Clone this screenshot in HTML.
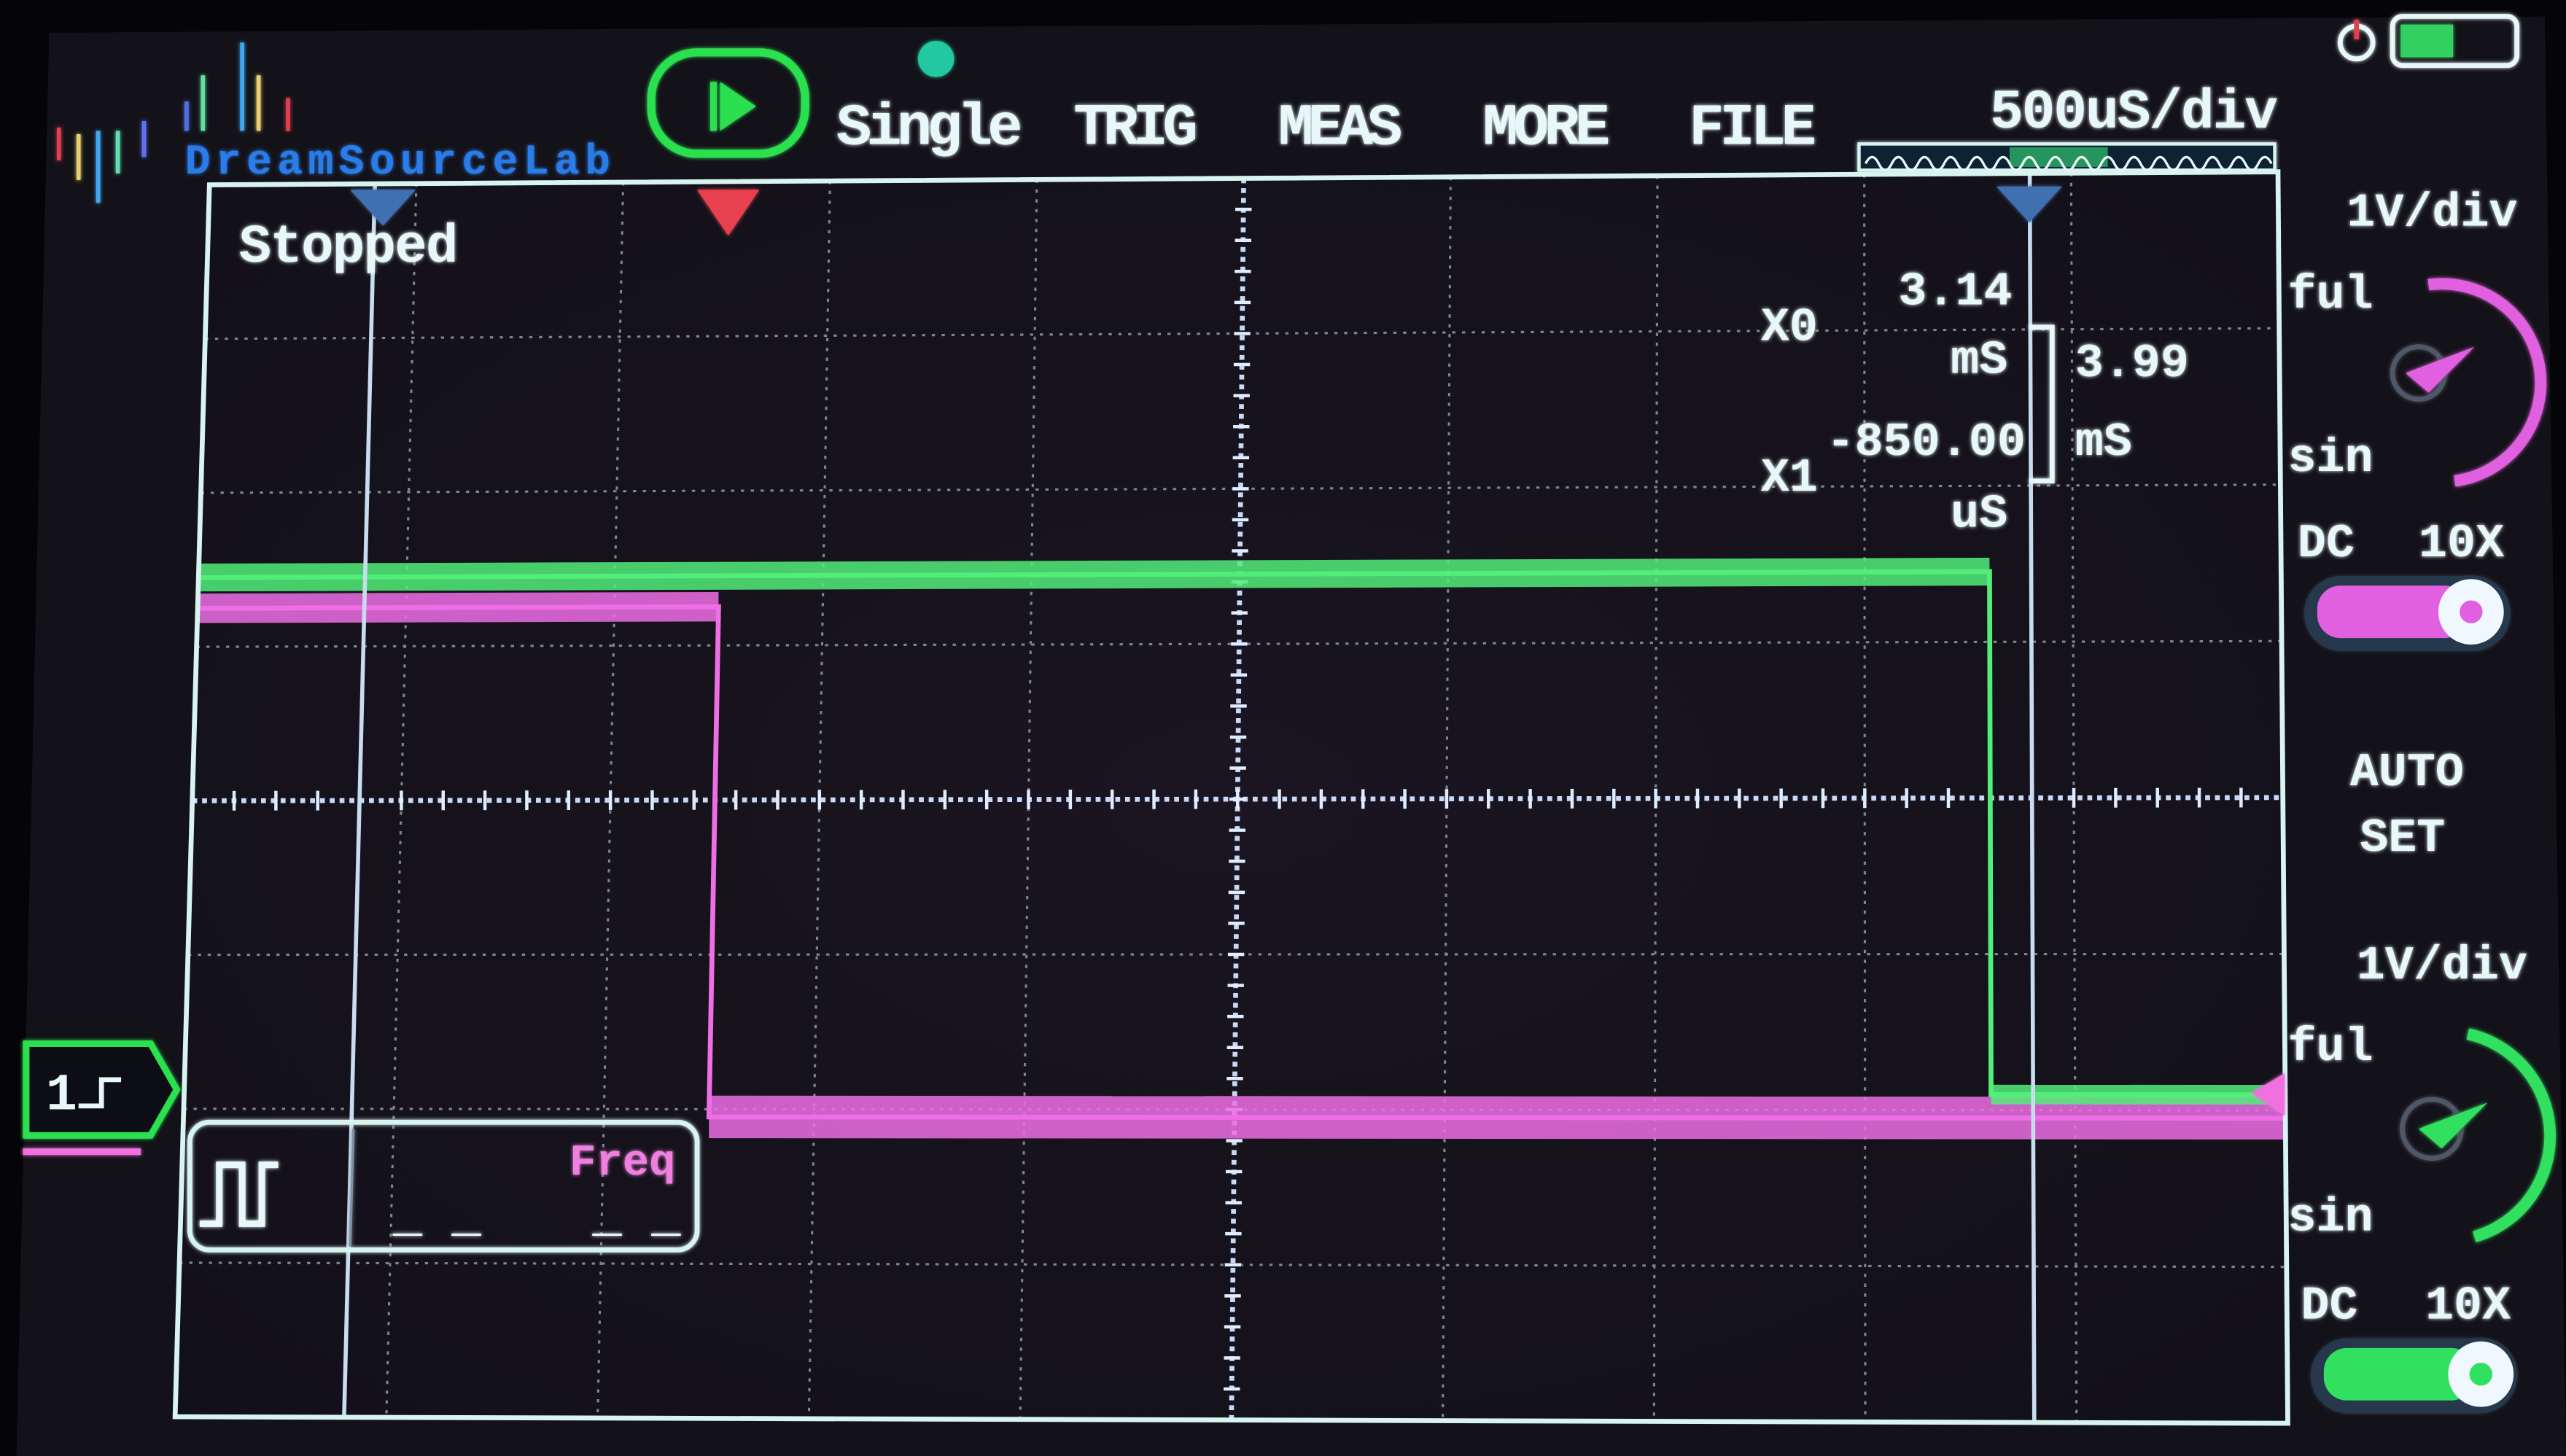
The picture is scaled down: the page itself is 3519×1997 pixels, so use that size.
<!DOCTYPE html>
<html><head><meta charset="utf-8"><style>
html,body{margin:0;padding:0;background:#08070b;}
svg{display:block}
text{font-family:"Liberation Mono",monospace;font-weight:bold;}
</style></head><body>
<svg id="scope" width="3519" height="1997" viewBox="0 0 1568 890" preserveAspectRatio="none" xmlns="http://www.w3.org/2000/svg">
<defs>
<filter id="glow" x="-20%" y="-20%" width="140%" height="140%"><feGaussianBlur stdDeviation="1.2" result="b"/><feMerge><feMergeNode in="b"/><feMergeNode in="SourceGraphic"/></feMerge></filter>
<radialGradient id="bg" cx="50%" cy="50%" r="70%"><stop offset="0" stop-color="#1a1520"/><stop offset="1" stop-color="#121018"/></radialGradient>
</defs>
<rect x="0" y="0" width="1568" height="890" fill="#050407"/>
<polygon points="30,20 1555,10 1568,890 10,890" fill="#141219"/>
<polygon points="128,113 1392,105 1398,870 107,866" fill="url(#bg)"/>
<g id="grid"></g>
<g id="traces"></g>
<polygon points="128,113 1392,105 1398,870 107,866" fill="none" stroke="#d8f4f0" stroke-width="3"/>
<!-- logo -->
<g filter="url(#glow)">
<g stroke-width="2.5">
<line x1="36" y1="78" x2="36" y2="98" stroke="#e04050"/><line x1="48" y1="82" x2="48" y2="110" stroke="#e8d070"/><line x1="60" y1="80" x2="60" y2="124" stroke="#40a8f0"/><line x1="72" y1="80" x2="72" y2="106" stroke="#60e0b0"/><line x1="88" y1="74" x2="88" y2="96" stroke="#6070f0"/>
<line x1="114" y1="62" x2="114" y2="80" stroke="#5070e0"/><line x1="124" y1="46" x2="124" y2="80" stroke="#60e0a0"/><line x1="148" y1="26" x2="148" y2="80" stroke="#40a8f0"/><line x1="158" y1="46" x2="158" y2="80" stroke="#e8d070"/><line x1="176" y1="60" x2="176" y2="80" stroke="#e04050"/>
</g>
<text x="113" y="106" font-size="26" fill="#2c7ce8" font-weight="normal" textLength="260">DreamSourceLab</text>
</g>
<!-- top menu -->
<g filter="url(#glow)">
<rect x="398" y="32" width="94" height="62" rx="28" fill="none" stroke="#2ce050" stroke-width="5"/>
<line x1="436" y1="50" x2="436" y2="80" stroke="#2ce050" stroke-width="4"/>
<polygon points="440,50 462,65 440,80" fill="#2ce050"/>
<circle cx="572" cy="36" r="11" fill="#20c8a0"/>
<text x="511" y="88" font-size="36" textLength="114" fill="#e8f8f8">Single</text>
<text x="656" y="88" font-size="36" textLength="76" fill="#e8f8f8">TRIG</text>
<text x="781" y="88" font-size="36" textLength="76" fill="#e8f8f8">MEAS</text>
<text x="906" y="88" font-size="36" textLength="78" fill="#e8f8f8">MORE</text>
<text x="1032" y="88" font-size="36" textLength="78" fill="#e8f8f8">FILE</text>
<text x="1216" y="78" font-size="34" textLength="176" fill="#e8f8f8">500uS/div</text>
<rect x="1136" y="88" width="254" height="16" fill="#102030" stroke="#d8f4f0" stroke-width="2"/>
<rect x="1228" y="90" width="60" height="12" fill="#30c870" opacity="0.7"/>
<path d="M1140,100 q4,-8 8,0 t8,0 t8,0 t8,0 t8,0 t8,0 t8,0 t8,0 t8,0 t8,0 t8,0 t8,0 t8,0 t8,0 t8,0 t8,0 t8,0 t8,0 t8,0 t8,0 t8,0 t8,0 t8,0 t8,0 t8,0 t8,0 t8,0 t8,0 t8,0 t8,0 t8,0" fill="none" stroke="#e8f8f8" stroke-width="1.5"/>
<g>
<circle cx="1440" cy="26" r="10" fill="none" stroke="#e8f8f8" stroke-width="3"/><line x1="1440" y1="12" x2="1440" y2="24" stroke="#e04050" stroke-width="3"/>
<rect x="1462" y="10" width="76" height="30" rx="6" fill="none" stroke="#e8f8f8" stroke-width="3"/><rect x="1467" y="15" width="32" height="20" fill="#30d060"/>
</g>
</g>
<!-- overlays in plot -->
<g filter="url(#glow)">
<text x="146" y="160" font-size="33" textLength="134" fill="#e8f8f8">Stopped</text>
<g font-size="29" fill="#e8f8f8">
<text x="1076" y="208">X0</text><text x="1160" y="186">3.14</text><text x="1192" y="228">mS</text>
<text x="1076" y="300">X1</text><text x="1116" y="278">-850.00</text><text x="1192" y="322">uS</text>
<text x="1268" y="230">3.99</text><text x="1268" y="278">mS</text>
<path d="M1240,200 h14 v94 h-14" fill="none" stroke="#e8f8f8" stroke-width="3"/>
</g>
<g>
<rect x="116" y="686" width="310" height="78" rx="12" fill="none" stroke="#d8f4f0" stroke-width="3"/>
<path d="M122,748 h12 v-36 h14 v36 h12 v-36 h10" fill="none" stroke="#e8f8f8" stroke-width="4"/>
<line x1="216" y1="690" x2="214" y2="762" stroke="#8090a0" stroke-width="1.5"/>
<text x="348" y="718" font-size="27" fill="#f080e0">Freq</text>
<text x="240" y="752" font-size="30" fill="#e8f8f8">_ _</text>
<text x="362" y="752" font-size="30" fill="#e8f8f8">_ _</text>
</g>
<g>
<path d="M16,638 h76 l16,28 l-16,28 h-76 z" fill="#101018" stroke="#2ce050" stroke-width="4"/>
<path d="M14,704 h72" stroke="#f070e0" stroke-width="4"/>
<text x="28" y="678" font-size="32" fill="#e8f8f8">1</text>
<path d="M48,676 h14 v-16 h12" fill="none" stroke="#e8f8f8" stroke-width="3"/>
</g>
<polygon points="426,116 464,116 445,144" fill="#e84050"/>
<polygon points="214,116 254,116 234,138" fill="#4070b0"/>
<polygon points="1220,114 1260,114 1240,136" fill="#4070b0"/>
<polygon points="1396,656 1376,668 1396,682" fill="#f070e0"/>
</g>
<!-- right panel -->
<g filter="url(#glow)" font-size="29" fill="#e8f8f8">
<text x="1434" y="138" fill="#e8f8f8">1V/div</text>
<text x="1398" y="188" fill="#e8f8f8">ful</text><text x="1398" y="288" fill="#e8f8f8">sin</text>
<path d="M1484,174 A58,58 0 0 1 1500,294" fill="none" stroke="#e060e0" stroke-width="7"/>
<circle cx="1478" cy="228" r="16" fill="none" stroke="#505868" stroke-width="3"/><polygon points="1470,228 1512,212 1484,240" fill="#e060e0"/>
<text x="1404" y="340" fill="#e8f8f8">DC</text><text x="1478" y="340" fill="#e8f8f8">10X</text>
<g><rect x="1408" y="352" width="126" height="46" rx="23" fill="#28384c"/><rect x="1416" y="358" width="92" height="32" rx="14" fill="#e060e0"/><circle cx="1510" cy="374" r="20" fill="#f0f8ff"/><circle cx="1510" cy="374" r="7" fill="#e060e0"/></g>
<text x="1436" y="480" fill="#e8f8f8">AUTO</text>
<text x="1442" y="520" fill="#e8f8f8">SET</text>
<text x="1440" y="598" fill="#e8f8f8">1V/div</text>
<text x="1398" y="648" fill="#e8f8f8">ful</text><text x="1398" y="752" fill="#e8f8f8">sin</text>
<path d="M1508,632 A64,64 0 0 1 1512,756" fill="none" stroke="#30e060" stroke-width="7"/>
<circle cx="1486" cy="690" r="18" fill="none" stroke="#505868" stroke-width="3"/><polygon points="1478,690 1520,674 1492,702" fill="#30e060"/>
<text x="1406" y="806" fill="#e8f8f8">DC</text><text x="1482" y="806" fill="#e8f8f8">10X</text>
<g><rect x="1412" y="818" width="126" height="46" rx="23" fill="#28384c"/><rect x="1420" y="824" width="92" height="32" rx="14" fill="#30e060"/><circle cx="1516" cy="840" r="20" fill="#f0f8ff"/><circle cx="1516" cy="840" r="7" fill="#30e060"/></g>
</g>
</svg>
<script>
// waveform data (divisions: x 0..10 from left, y in divs relative to centre, +up)
const greenLevels = [1.45, -1.9];
const greenEdge = 8.6;
const pinkLevels = [1.25, -2.05];
const pinkEdge = 2.5;
const cursorPositions = [0.8, 8.8];
const NS = "http://www.w3.org/2000/svg";
const TL=[128,113],TR=[1392,105],BL=[107,866],BR=[1398,870];
function map(dx, dy){
  const u=dx/10, v=(4-dy)/8;
  const x=(1-u)*(1-v)*TL[0]+u*(1-v)*TR[0]+(1-u)*v*BL[0]+u*v*BR[0];
  const y=(1-u)*(1-v)*TL[1]+u*(1-v)*TR[1]+(1-u)*v*BL[1]+u*v*BR[1];
  return [x,y];
}
function line(g,a,b,stroke,w,dash){
  const l=document.createElementNS(NS,'line');
  l.setAttribute('x1',a[0]);l.setAttribute('y1',a[1]);l.setAttribute('x2',b[0]);l.setAttribute('y2',b[1]);
  l.setAttribute('stroke',stroke);l.setAttribute('stroke-width',w);
  if(dash)l.setAttribute('stroke-dasharray',dash);
  g.appendChild(l);return l;
}
const grid=document.getElementById('grid');
for(let i=1;i<10;i++){
  const l=line(grid,map(i,4),map(i,-4),i===5?'#c8d8f8':'#7c8494',i===5?3:1.4,i===5?'3 3':'2 4');
  
  
}
for(let j=-3;j<=3;j++){
  const l=line(grid,map(0,j),map(10,j),j===0?'#c8d8f8':'#7c8494',j===0?3:1.4,j===0?'3 3':'2 4');
  
  
}
for(let k=1;k<50;k++){
  const p=map(k/5,0);
  const t=line(grid,[p[0],p[1]-6],[p[0],p[1]+6],'#e0ecff',2);
  
  
}
for(let k=1;k<40;k++){
  const q=map(5,k/5-4);
  const t2=line(grid,[q[0]-5,q[1]],[q[0]+5,q[1]],'#e0ecff',2);
  
  
}
const tr=document.getElementById('traces');
function trace(levels,edge,color,name,hiW,loW){
  const a=map(0,levels[0]),b=map(edge,levels[0]),c=map(edge,levels[1]),d=map(10,levels[1]);
  const p=document.createElementNS(NS,'path');
  p.setAttribute('d',`M${a[0]},${a[1]} L${b[0]},${b[1]} L${c[0]},${c[1]} L${d[0]},${d[1]}`);
  p.setAttribute('fill','none');p.setAttribute('stroke',color);p.setAttribute('stroke-width',3);
  
  
  tr.appendChild(p);
  const h=line(tr,a,b,color,hiW);h.setAttribute('opacity','0.85');
  
  
  const lo=line(tr,c,d,color,loW);lo.setAttribute('opacity','0.85');
  
  
}
trace(pinkLevels,pinkEdge,'#ee6ee6','channel2-trace',18,26);
trace(greenLevels,greenEdge,'#52ee7a','channel1-trace',17,12);
cursorPositions.forEach(cx=>{
  const l=line(tr,map(cx,4),map(cx,-4),'#c8dcf0',2.5);
  
  
});
</script>
</body></html>
